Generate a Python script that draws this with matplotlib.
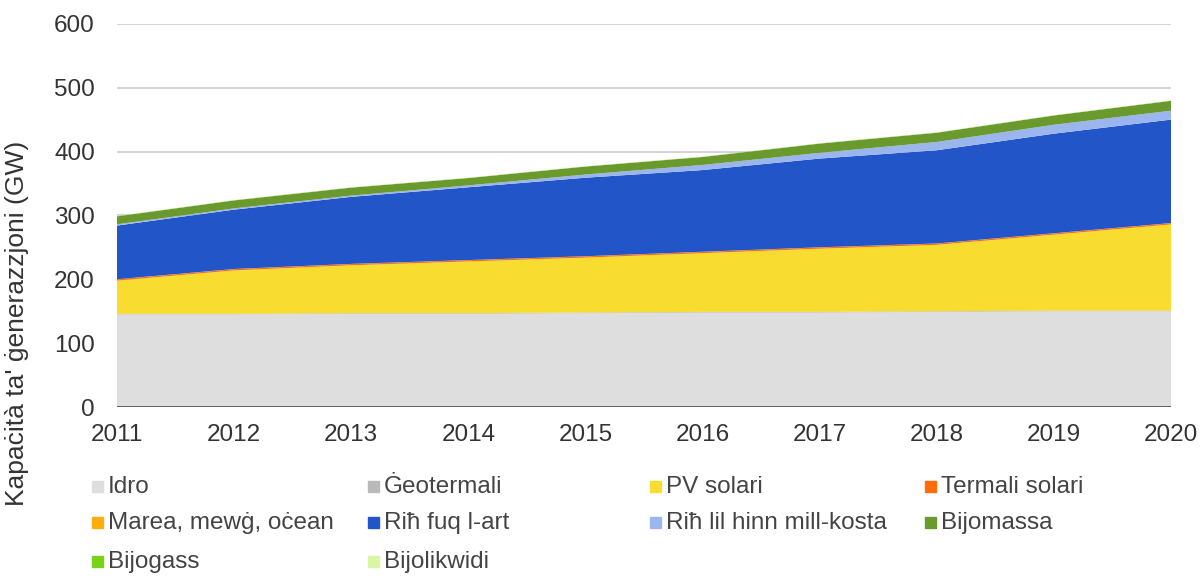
import matplotlib
matplotlib.use("Agg")
import numpy as np
from matplotlib import pyplot as plt
from matplotlib.patches import Rectangle

plt.rcParams['font.family'] = ['Liberation Sans', 'DejaVu Sans']

# data (GW)
years = [2011, 2012, 2013, 2014, 2015, 2016, 2017, 2018, 2019, 2020]
idro = [145, 145, 146, 146, 147, 148, 148, 149, 150, 150]
geotermali = [1, 1, 1, 1, 1, 1, 1, 1, 1, 1]
pv_solari = [52, 68, 75, 81, 86, 92, 99, 104, 119, 135]
termali_solari = [2, 2, 2, 2, 2, 2, 2, 2, 2, 2]
marea = [0.2, 0.2, 0.2, 0.2, 0.2, 0.2, 0.2, 0.2, 0.2, 0.2]
rih_art = [84, 93, 105, 114, 123, 128, 139, 146, 156, 162]
rih_kosta = [2, 2, 2, 3, 5, 8, 9, 13, 14, 14]
bijomassa = [12.4, 12.4, 12.4, 11.4, 12.4, 12.4, 14.4, 14.4, 14.4, 15.4]
bijogass = [0.3, 0.3, 0.3, 0.3, 0.3, 0.3, 0.3, 0.3, 0.3, 0.3]
bijolikwidi = [0.3, 0.3, 0.3, 0.3, 0.3, 0.3, 0.3, 0.3, 0.3, 0.3]

labels = ['Idro', 'Ġeotermali', 'PV solari', 'Termali solari',
          'Marea, mewġ, oċean', 'Riħ fuq l-art', 'Riħ lil hinn mill-kosta', 'Bijomassa',
          'Bijogass', 'Bijolikwidi']
colors = ['#dedede', '#b9b9b9', '#f9dc30', '#ff6d0a',
          '#ffac0f', '#2155c8', '#9bb6ee', '#6a992e',
          '#78d11b', '#d9f6a4']
series = [idro, geotermali, pv_solari, termali_solari, marea,
          rih_art, rih_kosta, bijomassa, bijogass, bijolikwidi]

fs = 17.5

fig = plt.figure(figsize=(12.04, 5.78), dpi=100)
ax = fig.add_axes([117/1204, 1-407/578, (1171-117)/1204, (407-24)/578])

ax.stackplot(years, *series, colors=colors, linewidth=0)

ax.set_xlim(2011, 2020)
ax.set_ylim(0, 600)
ax.set_yticks([0, 100, 200, 300, 400, 500, 600])
ax.set_xticks(years)
ax.grid(axis='y', color='#d0d0d0', lw=1.3)
ax.set_axisbelow(True)
for s in ax.spines.values():
    s.set_visible(False)
ax.axhline(0, color='#555555', lw=2, zorder=5)
ax.tick_params(length=0, labelsize=fs, colors='#333333')
ax.tick_params(axis='y', pad=16)
ax.tick_params(axis='x', pad=12)

fig.text(17/1204, 1-323/578, "Kapaċità ta' ġenerazzjoni (GW)", rotation=90,
         ha='center', va='center', fontsize=19, color='#333333')

# legend, 4 per row
col_x = [92, 368, 650, 925]
row_y = [487, 523, 562]
for i, (lab, col) in enumerate(zip(labels, colors)):
    r, c = divmod(i, 4)
    x0 = col_x[c]
    y0 = row_y[r]
    fig.patches.append(Rectangle(((x0)/1204, 1-(y0+5)/578), 11/1204, 11/578,
                                 transform=fig.transFigure, color=col))
    fig.text((x0+16)/1204, 1-y0/578, lab, ha='left', va='center',
             fontsize=fs, color='#444444')

fig.savefig('out.png', dpi=100)
